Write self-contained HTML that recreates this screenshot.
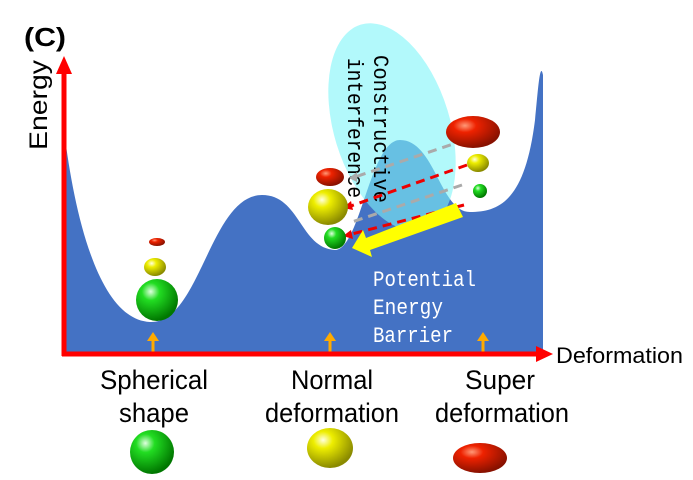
<!DOCTYPE html>
<html><head><style>body{margin:0;background:#fff}svg{display:block}</style></head><body>
<svg width="693" height="480" xmlns="http://www.w3.org/2000/svg">
<defs>
<radialGradient id="g" cx="0.35" cy="0.3" r="0.7"><stop offset="0" stop-color="#dfffdf"/><stop offset="0.3" stop-color="#22dd22"/><stop offset="1" stop-color="#007700"/></radialGradient>
<radialGradient id="y" cx="0.35" cy="0.3" r="0.7"><stop offset="0" stop-color="#ffffe0"/><stop offset="0.3" stop-color="#eeee00"/><stop offset="1" stop-color="#8a8a00"/></radialGradient>
<radialGradient id="r" cx="0.35" cy="0.3" r="0.7"><stop offset="0" stop-color="#ff9977"/><stop offset="0.3" stop-color="#ee2200"/><stop offset="1" stop-color="#881100"/></radialGradient>
</defs>
<path d="M64,130 C75,220 100,320 150,322 C200,324 210,195 262,195 C300,195 300,248 335,250 C360,250 370,140 400,140 C435,140 440,212 470,212 C500,212 525,200 535,120 C538,90 540,60 543,75 L543,354 L64,354 Z" fill="#4472c4"/>
<ellipse cx="392" cy="127" rx="58" ry="107" transform="rotate(-17 392 127)" fill="#7ff5f8" fill-opacity="0.6"/>
<text x="374" y="55" transform="rotate(90 374 55)" font-family="Liberation Mono,monospace" font-size="22" textLength="148" lengthAdjust="spacingAndGlyphs" fill="#000">Constructive</text>
<text x="348" y="58" transform="rotate(90 348 58)" font-family="Liberation Mono,monospace" font-size="22" textLength="140" lengthAdjust="spacingAndGlyphs" fill="#000">interference</text>
<g stroke-width="3" stroke-dasharray="9,6" fill="none">
<line x1="465" y1="140" x2="352" y2="178" stroke="#aaa"/>
<line x1="467" y1="165" x2="348" y2="207" stroke="#e00"/>
<line x1="462" y1="185" x2="352" y2="222" stroke="#aaa"/>
<line x1="464" y1="205" x2="348" y2="235" stroke="#e00"/>
</g>
<path d="M349,178 l8,-6 l0,10z" fill="#aaa"/>
<path d="M343,208 l8,-7 l2,9z" fill="#e00"/>
<path d="M343,236 l8,-6 l2,9z" fill="#e00"/>
<path d="M456,203 L463,217 L370,250 L372,257 L352,248 L363,230 L366,238 Z" fill="#ffff00"/>
<g font-family="Liberation Mono,monospace" font-size="22" fill="#fff">
<text x="373" y="286" textLength="103" lengthAdjust="spacingAndGlyphs">Potential</text><text x="373" y="314" textLength="70" lengthAdjust="spacingAndGlyphs">Energy</text><text x="373" y="342" textLength="80" lengthAdjust="spacingAndGlyphs">Barrier</text></g>
<ellipse cx="157" cy="242" rx="8" ry="4" fill="url(#r)"/>
<ellipse cx="155" cy="267" rx="11" ry="9" fill="url(#y)"/>
<circle cx="157" cy="300" r="21" fill="url(#g)"/>
<ellipse cx="330" cy="177" rx="14" ry="9" fill="url(#r)"/>
<ellipse cx="328" cy="207" rx="20" ry="18" fill="url(#y)"/>
<circle cx="335" cy="238" r="11" fill="url(#g)"/>
<ellipse cx="473" cy="132" rx="27" ry="16" fill="url(#r)"/>
<ellipse cx="478" cy="163" rx="11" ry="9" fill="url(#y)"/>
<circle cx="480" cy="191" r="7" fill="url(#g)"/>
<circle cx="152" cy="452" r="22" fill="url(#g)"/>
<ellipse cx="330" cy="448" rx="23" ry="20" fill="url(#y)"/>
<ellipse cx="480" cy="458" rx="27" ry="15" fill="url(#r)"/>
<g stroke="#ffaa00" stroke-width="3"><line x1="153" y1="352" x2="153" y2="340"/><line x1="330" y1="352" x2="330" y2="340"/><line x1="483" y1="352" x2="483" y2="340"/></g>
<g fill="#ffaa00"><path d="M147,341 l6,-9 l6,9z"/><path d="M324,341 l6,-9 l6,9z"/><path d="M477,341 l6,-9 l6,9z"/></g>
<line x1="64" y1="356" x2="64" y2="70" stroke="#f00" stroke-width="5"/>
<path d="M56,74 L64,56 L72,74Z" fill="#f00"/>
<line x1="62" y1="354" x2="538" y2="354" stroke="#f00" stroke-width="5"/>
<path d="M536,346 L553,354 L536,362Z" fill="#f00"/>
<text x="556" y="363" font-family="Liberation Sans,sans-serif" font-size="22" textLength="127" lengthAdjust="spacingAndGlyphs" fill="#000">Deformation</text>
<text x="47" y="150" transform="rotate(-90 47 150)" font-family="Liberation Sans,sans-serif" font-size="25" textLength="90" lengthAdjust="spacingAndGlyphs" fill="#000">Energy</text>
<text x="24" y="46" font-family="Liberation Sans,sans-serif" font-size="26" font-weight="bold" textLength="42" lengthAdjust="spacingAndGlyphs" fill="#000">(C)</text>
<g font-family="Liberation Sans,sans-serif" font-size="27" fill="#000" text-anchor="middle">
<text x="154" y="389" textLength="108" lengthAdjust="spacingAndGlyphs">Spherical</text><text x="154" y="422" textLength="70" lengthAdjust="spacingAndGlyphs">shape</text>
<text x="332" y="389" textLength="82" lengthAdjust="spacingAndGlyphs">Normal</text><text x="332" y="422" textLength="134" lengthAdjust="spacingAndGlyphs">deformation</text>
<text x="500" y="389" textLength="70" lengthAdjust="spacingAndGlyphs">Super</text><text x="502" y="422" textLength="134" lengthAdjust="spacingAndGlyphs">deformation</text>
</g>
</svg>
</body></html>
